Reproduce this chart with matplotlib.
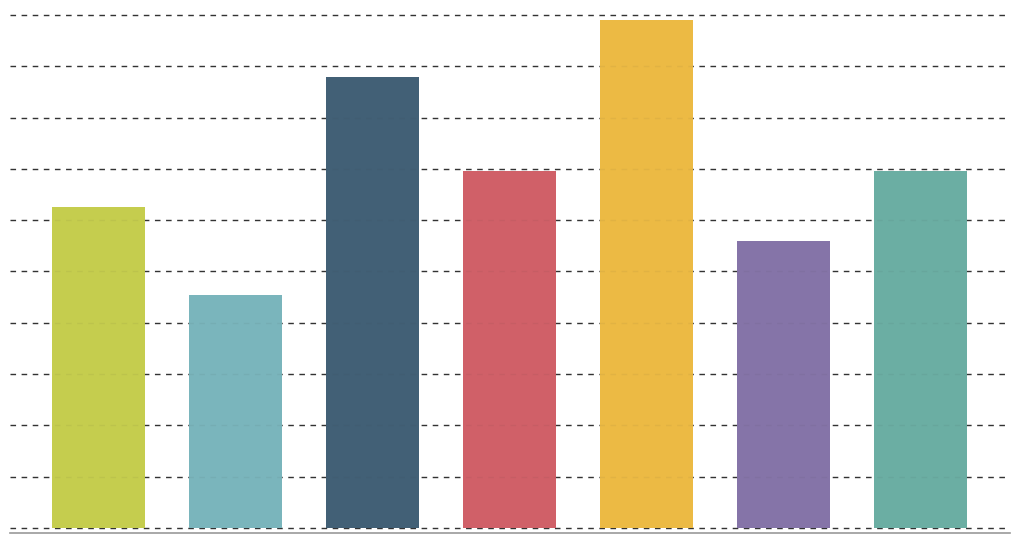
import matplotlib
matplotlib.use("Agg")
import matplotlib.pyplot as plt

categories = ["A", "B", "C", "D", "E", "F", "G"]
values = [6.25, 4.55, 8.8, 6.95, 9.9, 5.6, 6.95]
colors = ["#C5CD4E", "#7AB5BC", "#426076", "#D06068", "#ECBA44", "#8574A8", "#6BAEA3"]
gridlines = [0, 1, 2, 3, 4, 5, 6, 7, 8, 9, 10]

fig = plt.figure(figsize=(10.24, 5.41), dpi=100)
ax = fig.add_axes([10 / 1024, 8 / 541, 1000 / 1024, 519 / 541])

x = range(len(categories))
for g in gridlines:
    ax.axhline(g, color="#333333", linestyle=(0, (4, 4)), linewidth=1.0, zorder=1)
ax.bar(x, values, width=0.68, color=colors, zorder=2)
# faint dashes show through the bars in the original
for g in gridlines:
    ax.axhline(g, color="#333333", linestyle=(0, (4, 4)), linewidth=1.0, alpha=0.06, zorder=3)

ax.set_xlim(-0.646, 6.653)
ax.set_ylim(-0.1, 10.02)
for s in ["top", "left", "right"]:
    ax.spines[s].set_visible(False)
ax.spines["bottom"].set_color("#999999")
ax.spines["bottom"].set_linewidth(1.2)
ax.set_xticks([])
ax.set_yticks([])

fig.savefig("out.png", dpi=100)
